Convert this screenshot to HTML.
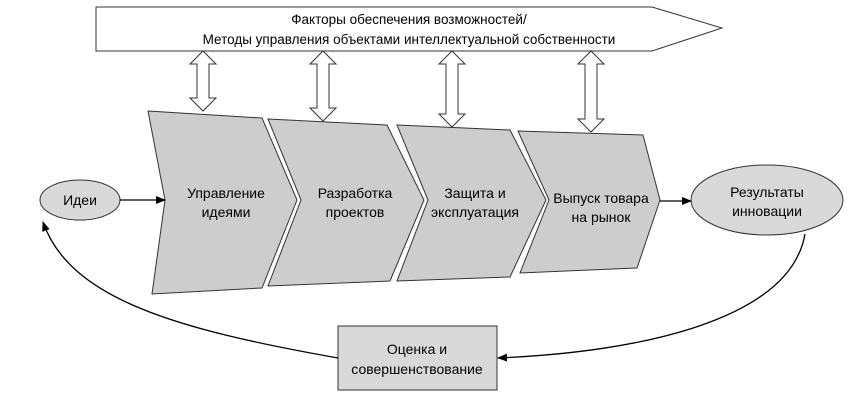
<!DOCTYPE html>
<html><head><meta charset="utf-8"><style>
html,body{margin:0;padding:0;background:#fff;}
svg{display:block;font-family:"Liberation Sans",Arial,sans-serif;}
</style></head><body>
<svg width="857" height="407" viewBox="0 0 857 407" xmlns="http://www.w3.org/2000/svg">
<defs><marker id="ah" markerWidth="10" markerHeight="8" refX="9" refY="4" orient="auto" markerUnits="userSpaceOnUse"><path d="M0,0 L10,4 L0,8 Z" fill="#000"/></marker></defs>
<polygon points="96,7 652,7 722,28 652,51 96,51" fill="#fff" stroke="#333" stroke-width="1"/>
<text x="409" y="24" font-size="13.5" text-anchor="middle">Факторы обеспечения возможностей/</text>
<text x="409" y="44" font-size="13.5" text-anchor="middle">Методы управления объектами интеллектуальной собственности</text>
<g fill="#fff" stroke="#333" stroke-width="1">
<polygon points="203,51 216,64 209,64 209,98 216,98 203,111 190,98 197,98 197,64 190,64"/>
<polygon points="323,51 336,64 329,64 329,108 336,108 323,121 310,108 317,108 317,64 310,64"/>
<polygon points="452,51 465,64 458,64 458,114 465,114 452,127 439,114 446,114 446,64 439,64"/>
<polygon points="591,51 604,64 597,64 597,119 604,119 591,132 578,119 585,119 585,64 578,64"/>
</g>
<g fill="#cdcdcd" stroke="#333" stroke-width="1">
<polygon points="148,111 262,118 297,200 262,288 152,294 165,200"/>
<polygon points="268,119 387,125 424,200 390,281 268,286 301,200"/>
<polygon points="397,125 510,130 546,200 510,277 397,281 428,200"/>
<polygon points="518,131 643,135 660,200 637,268 520,273 549,200"/>
</g>
<g font-size="14" text-anchor="middle">
<text x="226" y="198">Управление</text><text x="226" y="217">идеями</text>
<text x="355" y="198">Разработка</text><text x="355" y="217">проектов</text>
<text x="475" y="198">Защита и</text><text x="475" y="217">эксплуатация</text>
<text x="601" y="203">Выпуск товара</text><text x="601" y="222">на рынок</text>
</g>
<ellipse cx="80" cy="200" rx="40" ry="20" fill="#d9d9d9" stroke="#333"/>
<text x="80" y="205" font-size="14" text-anchor="middle">Идеи</text>
<ellipse cx="767" cy="200" rx="76" ry="35" fill="#d9d9d9" stroke="#333"/>
<text x="767" y="197" font-size="14" text-anchor="middle">Результаты</text>
<text x="767" y="216" font-size="14" text-anchor="middle">инновации</text>
<line x1="120" y1="200" x2="165" y2="200" stroke="#000" stroke-width="1.3" marker-end="url(#ah)"/>
<line x1="660" y1="201" x2="691" y2="201" stroke="#000" stroke-width="1.3" marker-end="url(#ah)"/>
<rect x="338" y="326" width="159" height="64" fill="#d9d9d9" stroke="#333"/>
<text x="417" y="354" font-size="14" text-anchor="middle">Оценка и</text>
<text x="417" y="374" font-size="14" text-anchor="middle">совершенствование</text>
<path d="M805,234 C790,320 640,352 498,358" fill="none" stroke="#000" stroke-width="1.3" marker-end="url(#ah)"/>
<path d="M338,358 C180,330 70,300 43,222" fill="none" stroke="#000" stroke-width="1.3" marker-end="url(#ah)"/>
</svg>
</body></html>
